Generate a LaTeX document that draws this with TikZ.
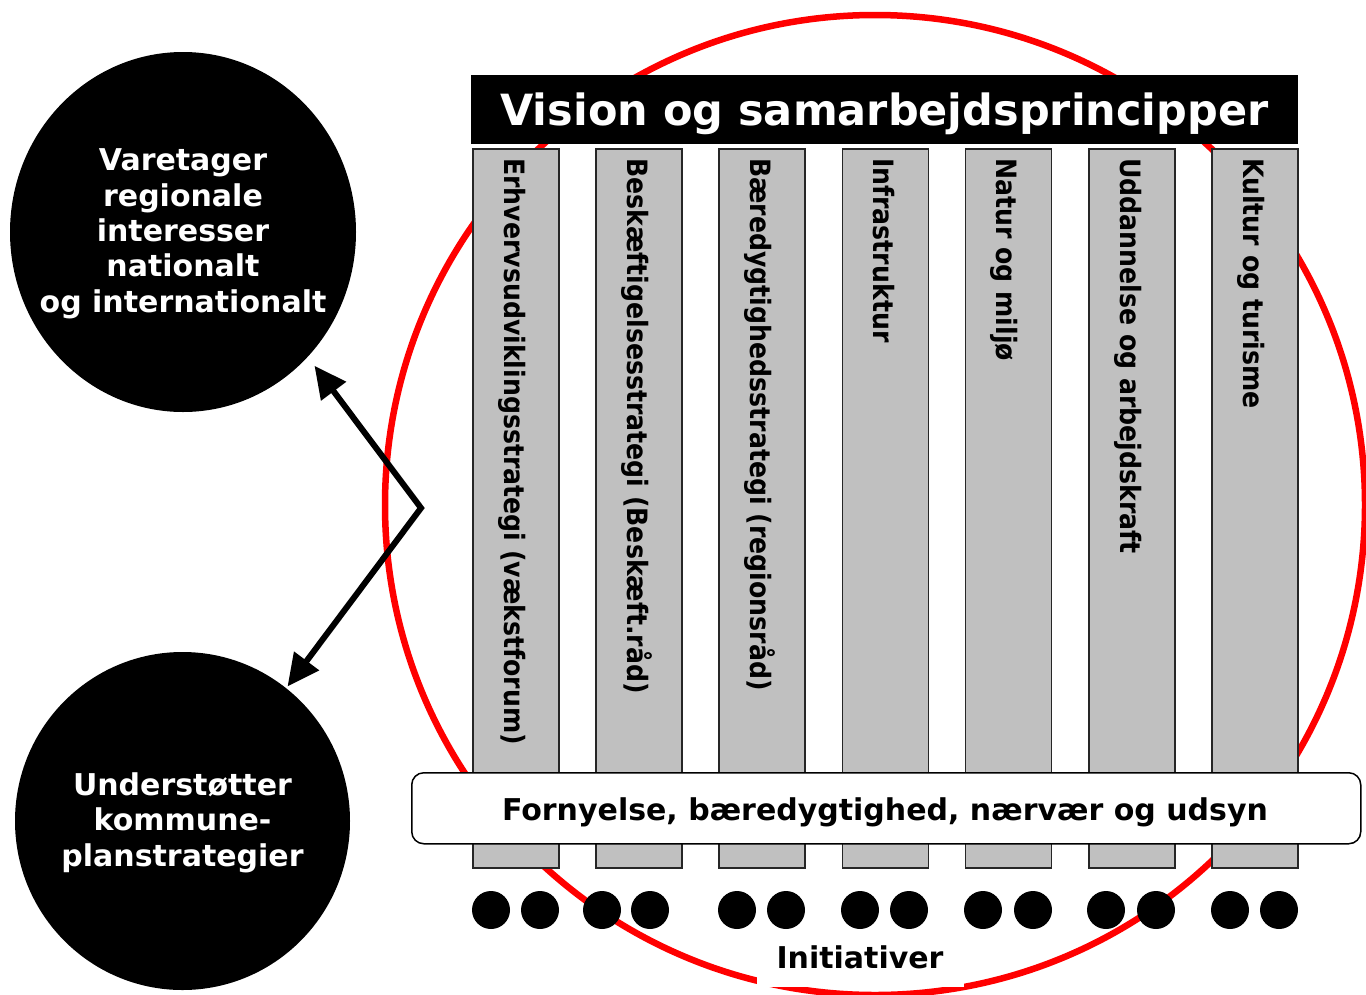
\documentclass[tikz,border=0pt]{standalone}
\usepackage{fontspec}
\setmainfont{DejaVu Sans}
\usetikzlibrary{arrows.meta,shapes.geometric}
\definecolor{colgray}{HTML}{C0C0C0}
\definecolor{ringred}{HTML}{FF0000}
\begin{document}
\begin{tikzpicture}[x=1pt,y=-1pt,
  pillar/.style={draw=black!85, line width=1.5pt, fill=colgray, anchor=north west, minimum width=86pt, minimum height=719pt, inner sep=0pt},
  coltext/.style={rotate=-90, anchor=base west, inner sep=0pt, font=\fontsize{28}{30}\selectfont\bfseries},
  dot/.style={circle, fill=black, minimum size=38pt, inner sep=0pt},
  bigcirc/.style={ellipse, fill=black, inner sep=0pt},
  circtext/.style={text=white, align=center, inner sep=0pt, font=\fontsize{30}{35.3}\selectfont\bfseries},
  arr/.style={line width=6pt, line join=miter, {Triangle[length=32pt,width=30pt]}-{Triangle[length=32pt,width=30pt]}},
  lbl/.style={inner sep=0pt, anchor=base, font=\fontsize{30}{35}\selectfont\bfseries}
]
\useasboundingbox (0,0) rectangle (1366,994);
% red ring
\draw[ringred, line width=6.5pt] (875,505) circle[radius=490];
% pillars
\foreach \i/\t in {0/{Erhvervsudviklingsstrategi (vækstforum)},1/{Beskæftigelsesstrategi (Beskæft.råd)},2/{Bæredygtighedsstrategi (regionsråd)},3/{Infrastruktur},4/{Natur og miljø},5/{Uddannelse og arbejdskraft},6/{Kultur og turisme}}{
  \node[pillar] (col\i) at ({472+123.2*\i},148) {};
  \node[coltext] (coltxt\i) at ({504+123.2*\i},158) {\scalebox{0.9}[1]{\t}};
}
% title bar
\node[fill=black, anchor=north west, minimum width=827pt, minimum height=69pt, inner sep=0pt] (title) at (471,75) {};
\node[inner sep=0pt, anchor=base, text=white, font=\fontsize{43}{50}\selectfont\bfseries] (titletxt) at (884.5,125) {Vision og samarbejdsprincipper};
% band
\node[draw, line width=1.5pt, fill=white, rounded corners=12pt, anchor=north west, minimum width=949pt, minimum height=71pt, inner sep=0pt] (band) at (411,772) {};
\node[lbl] (bandtxt) at (885,820) {Fornyelse, bæredygtighed, nærvær og udsyn};
% dots
\foreach \x [count=\k] in {491,540,602,650,737,786,860,909,983,1033,1106,1156,1230,1279}{
  \node[dot] (d\k) at (\x,910) {};
}
\node[lbl, fill=white, inner xsep=20pt, text height=24pt, text depth=19pt] (init) at (860,968) {Initiativer};
% left circles
\node[bigcirc, minimum width=346pt, minimum height=360pt] (top) at (183,232) {};
\node[circtext, anchor=base] (toptxt) at (183,312) {Varetager\\regionale\\interesser\\nationalt\\og internationalt};
\node[bigcirc, minimum width=335pt, minimum height=338pt] (bot) at (182.5,821) {};
\node[circtext, anchor=base] (bottxt) at (182.5,866) {Understøtter\\kommune-\\planstrategier};
% arrows
\coordinate (v) at (421,508);
\draw[arr, shorten <=11pt, shorten >=2pt] (top.-45) -- (v) -- (bot.52);
\end{tikzpicture}
\end{document}
